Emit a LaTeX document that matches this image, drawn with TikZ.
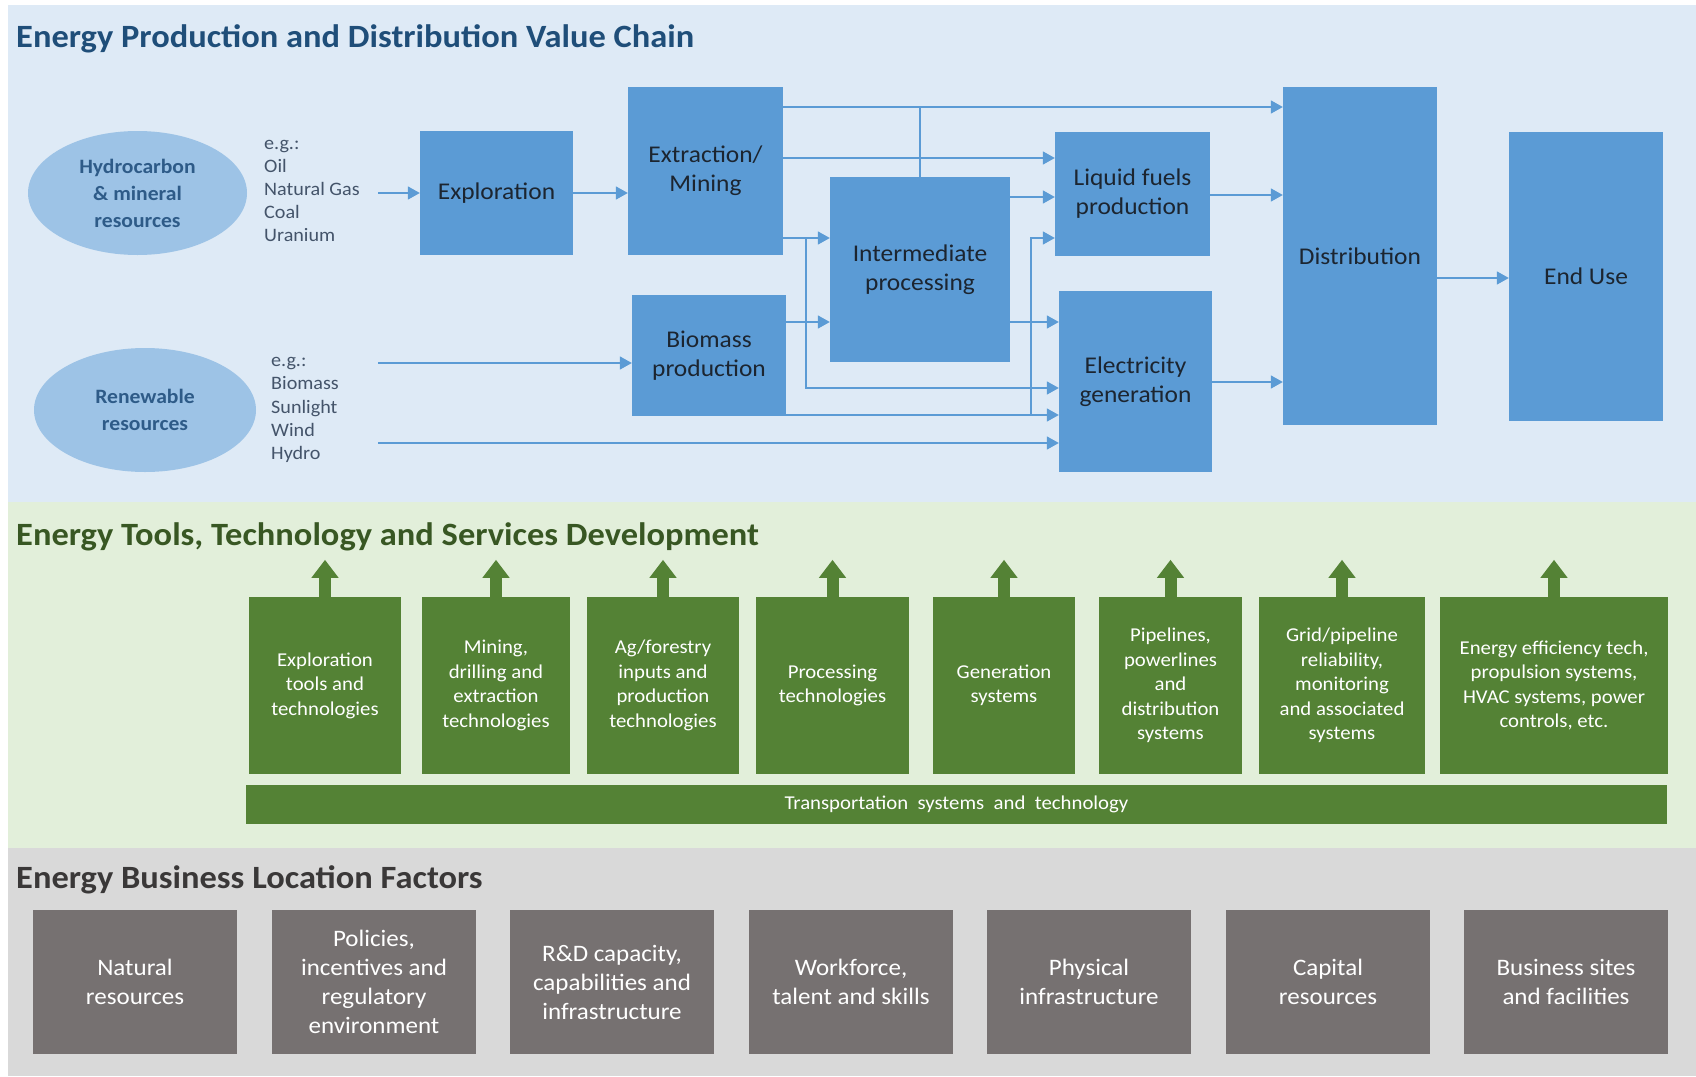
\documentclass[tikz,border=0pt]{standalone}
\usepackage{fontspec}
\setmainfont{Carlito}[FakeStretch=1.06]
\usetikzlibrary{arrows.meta,shapes.geometric}
\definecolor{panelblue}{HTML}{DEEAF6}
\definecolor{panelgreen}{HTML}{E2EFDA}
\definecolor{panelgray}{HTML}{D9D9D9}
\definecolor{boxblue}{HTML}{5B9BD5}
\definecolor{ellblue}{HTML}{9DC3E6}
\definecolor{boxgreen}{HTML}{548235}
\definecolor{boxgray}{HTML}{767171}
\definecolor{titleblue}{HTML}{1F4E79}
\definecolor{titlegreen}{HTML}{385723}
\definecolor{titlegray}{HTML}{3A3838}
\definecolor{elltext}{HTML}{2E5B88}
\definecolor{egtext}{HTML}{44546A}
\definecolor{boxtext}{HTML}{1C2530}
\begin{document}
\begin{tikzpicture}[x=1pt,y=-1pt,
  bluebox/.style={rectangle, fill=boxblue, inner sep=0pt, align=center, text=boxtext, font=\fontsize{24}{29}\selectfont},
  ellnode/.style={ellipse, fill=ellblue, inner sep=0pt, align=center, text=elltext, font=\bfseries\fontsize{20.4}{27}\selectfont},
  egnode/.style={anchor=west, inner sep=0pt, align=left, text=egtext, font=\fontsize{19}{23.2}\selectfont},
  greenbox/.style={rectangle, fill=boxgreen, inner sep=0pt, align=center, text=white, font=\fontsize{19.6}{24.5}\selectfont, minimum height=177pt},
  graybox/.style={rectangle, fill=boxgray, inner sep=0pt, align=center, text=white, font=\fontsize{23.6}{29}\selectfont, minimum width=204pt, minimum height=144pt},
  titlenode/.style={anchor=base west, inner sep=0pt, font=\bfseries\fontsize{32.5}{38}\selectfont},
  arr/.style={draw=boxblue, line width=1.6pt, -{Triangle[length=12pt,width=13pt]}},
  plainline/.style={draw=boxblue, line width=1.6pt},
  garrow/.style={draw=boxgreen, line width=12pt, -{Triangle[length=18pt,width=26pt]}}
]
% canvas and panels
\fill[white] (0,0) rectangle (1696,1076);
\useasboundingbox (0,0) rectangle (1696,1076);
\fill[panelblue] (8,5) rectangle (1696,502);
\fill[panelgreen] (8,502) rectangle (1696,848);
\fill[panelgray] (8,848) rectangle (1696,1076);

% titles
\node[titlenode, text=titleblue] (t1) at (16,47) {Energy Production and Distribution Value Chain};
\node[titlenode, text=titlegreen] (t2) at (16,545) {Energy Tools, Technology and Services Development};
\node[titlenode, text=titlegray] (t3) at (16,888) {Energy Business Location Factors};

% resources
\node[ellnode, minimum width=219pt, minimum height=124pt] (hyd) at (137.5,193) {Hydrocarbon\\\& mineral\\resources};
\node[ellnode, minimum width=222pt, minimum height=124pt] (ren) at (145,410) {Renewable\\resources};
\node[egnode] (eg1) at (264,191) {e.g.:\\Oil\\Natural Gas\\Coal\\Uranium};
\node[egnode] (eg2) at (271,410) {e.g.:\\Biomass\\Sunlight\\Wind\\Hydro};

% value chain boxes
\node[bluebox, minimum width=153pt, minimum height=124pt] (expl) at (496.5,193) {Exploration};
\node[bluebox, minimum width=155pt, minimum height=168pt] (extr) at (705.5,171) {Extraction/\\Mining};
\node[bluebox, minimum width=154pt, minimum height=121pt] (biom) at (709,355.5) {Biomass\\production};
\node[bluebox, minimum width=180pt, minimum height=185pt] (inter) at (920,269.5) {Intermediate\\processing};
\node[bluebox, minimum width=155pt, minimum height=124pt] (liq) at (1132.5,194) {Liquid fuels\\production};
\node[bluebox, minimum width=153pt, minimum height=181pt] (elec) at (1135.5,381.5) {Electricity\\generation};
\node[bluebox, minimum width=154pt, minimum height=338pt] (dist) at (1360,256) {Distribution};
\node[bluebox, minimum width=154pt, minimum height=289pt] (enduse) at (1586,276.5) {End Use};

% levels for connectors
\coordinate (yA) at (0,107);
\coordinate (yB) at (0,158);
\coordinate (yC) at (0,197);
\coordinate (yD) at (0,238);
\coordinate (yE) at (0,322);
\coordinate (yF) at (0,388);
\coordinate (yG) at (0,415);
\coordinate (yJ) at (0,195);
\coordinate (yK) at (0,382);
\coordinate (yL) at (0,278);
\coordinate (eg1end) at (378,193);
\coordinate (r1) at (378,363);
\coordinate (r2) at (378,443);
\coordinate (j1) at (806,238);
\coordinate (j2) at (1031,415);

% connectors
\draw[arr] (eg1end) -- (expl.west);
\draw[arr] (expl.east) -- (expl.east -| extr.west);
\draw[arr] (extr.east |- yA) -- (dist.west |- yA);
\draw[plainline] (inter.north) -- (inter.north |- yA);
\draw[arr] (extr.east |- yB) -- (liq.west |- yB);
\draw[arr] (extr.east |- yD) -- (inter.west |- yD);
\draw[arr] (j1) |- (elec.west |- yF);
\draw[arr] (biom.east |- yE) -- (inter.west |- yE);
\draw[arr] (biom.east |- yG) -- (elec.west |- yG);
\draw[arr] (j2) |- (liq.west |- yD);
\draw[arr] (inter.east |- yC) -- (liq.west |- yC);
\draw[arr] (inter.east |- yE) -- (elec.west |- yE);
\draw[arr] (r1) -- (biom.west |- r1);
\draw[arr] (r2) -- (elec.west |- r2);
\draw[arr] (liq.east |- yJ) -- (dist.west |- yJ);
\draw[arr] (elec.east |- yK) -- (dist.west |- yK);
\draw[arr] (dist.east |- yL) -- (enduse.west |- yL);

% technology boxes
\node[greenbox, minimum width=152pt] (g1) at (325,685.5) {Exploration\\tools and\\technologies};
\node[greenbox, minimum width=148pt] (g2) at (496,685.5) {Mining,\\drilling and\\extraction\\technologies};
\node[greenbox, minimum width=152pt] (g3) at (663,685.5) {Ag/forestry\\inputs and\\production\\technologies};
\node[greenbox, minimum width=153pt] (g4) at (832.5,685.5) {Processing\\technologies};
\node[greenbox, minimum width=142pt] (g5) at (1004,685.5) {Generation\\systems};
\node[greenbox, minimum width=143pt] (g6) at (1170.5,685.5) {Pipelines,\\powerlines\\and\\distribution\\systems};
\node[greenbox, minimum width=166pt] (g7) at (1342,685.5) {Grid/pipeline\\reliability,\\monitoring\\and associated\\systems};
\node[greenbox, minimum width=228pt] (g8) at (1554,685.5) {Energy efficiency tech,\\propulsion systems,\\HVAC systems, power\\controls, etc.};
\node[rectangle, fill=boxgreen, inner sep=0pt, text=white, font=\fontsize{19.6}{24.5}\selectfont, minimum width=1421pt, minimum height=39pt] (trans) at (956.5,804.5) {Transportation\ \ systems\ \ and\ \ technology};

\foreach \g in {g1,g2,g3,g4,g5,g6,g7,g8}{
  \draw[garrow] (\g.north) -- ++(0,-37);
}

% location factor boxes
\node[graybox] (k1) at (135,982) {Natural\\resources};
\node[graybox] (k2) at (374,982) {Policies,\\incentives and\\regulatory\\environment};
\node[graybox] (k3) at (612,982) {R\&D capacity,\\capabilities and\\infrastructure};
\node[graybox] (k4) at (851,982) {Workforce,\\talent and skills};
\node[graybox] (k5) at (1089,982) {Physical\\infrastructure};
\node[graybox] (k6) at (1328,982) {Capital\\resources};
\node[graybox] (k7) at (1566,982) {Business sites\\and facilities};
\end{tikzpicture}
\end{document}
